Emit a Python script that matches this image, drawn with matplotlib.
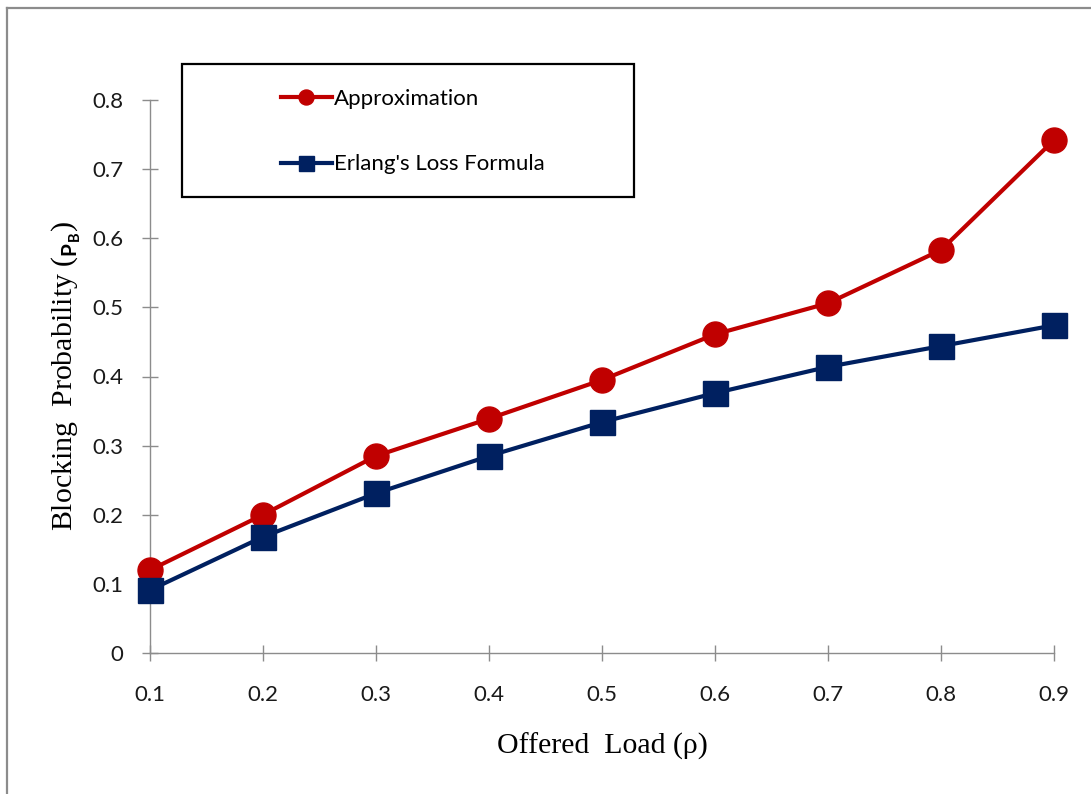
import matplotlib

matplotlib.use("Agg")
import matplotlib.pyplot as plt
from matplotlib.patches import Rectangle

# Offered load and blocking probability for both methods
load = [0.1, 0.2, 0.3, 0.4, 0.5, 0.6, 0.7, 0.8, 0.9]
approximation = [0.120, 0.200, 0.285, 0.339, 0.395, 0.461, 0.506, 0.583, 0.742]
erlang_loss = [0.091, 0.168, 0.231, 0.285, 0.334, 0.376, 0.414, 0.444, 0.474]
y_ticks = [0, 0.1, 0.2, 0.3, 0.4, 0.5, 0.6, 0.7, 0.8]
y_tick_labels = ["0", "0.1", "0.2", "0.3", "0.4", "0.5", "0.6", "0.7", "0.8"]
x_tick_labels = ["0.1", "0.2", "0.3", "0.4", "0.5", "0.6", "0.7", "0.8", "0.9"]

RED = "#C00000"
NAVY = "#002060"
AXIS_GREY = "#8C8C8C"
TICK_FONT = "Lato"
LABEL_FONT = "Liberation Serif"

plt.rcParams["mathtext.fontset"] = "custom"
plt.rcParams["mathtext.bf"] = "Lato:bold"
plt.rcParams["mathtext.rm"] = "Liberation Serif"

fig = plt.figure(figsize=(10.91, 7.94), dpi=100)
ax = fig.add_axes([150 / 1091, 1 - 653 / 794, (1054 - 150) / 1091, (653 - 100) / 794])

ax.plot(load, approximation, color=RED, lw=3, marker="o", ms=18,
        label="Approximation", clip_on=False, zorder=3)
ax.plot(load, erlang_loss, color=NAVY, lw=3, marker="s", ms=18,
        label="Erlang's Loss Formula", clip_on=False, zorder=3)

ax.set_xlim(0.1, 0.9)
ax.set_ylim(0, 0.8)
ax.set_xticks(load)
ax.set_xticklabels(x_tick_labels, fontfamily=TICK_FONT, fontsize=16)
ax.set_yticks(y_ticks)
ax.set_yticklabels(y_tick_labels, fontfamily=TICK_FONT, fontsize=16)
ax.tick_params(direction="inout", length=12, width=1, color=AXIS_GREY,
               labelcolor="#1a1a1a")
ax.tick_params(axis="y", pad=13)
ax.tick_params(axis="x", pad=17)

for side in ("top", "right"):
    ax.spines[side].set_visible(False)
for side in ("left", "bottom"):
    ax.spines[side].set_color(AXIS_GREY)
    ax.spines[side].set_linewidth(1)

ax.set_xlabel("Offered  Load (\u03c1)", fontfamily=LABEL_FONT, fontsize=21.5,
              labelpad=20)
ax.set_ylabel(r"Blocking  Probability ($_{\mathbf{P_B}}$)", fontfamily=LABEL_FONT,
              fontsize=21.5, labelpad=7)

# Legend sits inside a wide framed box in the upper left
fig.patches.append(Rectangle((182 / 1091, 1 - 197 / 794), (634 - 182) / 1091,
                             (197 - 64) / 794, transform=fig.transFigure,
                             fill=False, edgecolor="black", lw=1.6, zorder=5))
leg = fig.legend(loc="upper left", bbox_to_anchor=(272 / 1091, 1 - 80 / 794),
                 frameon=False, prop={"family": TICK_FONT, "size": 16},
                 handlelength=2.3, handletextpad=0.1, labelspacing=2.05,
                 markerscale=0.6, borderaxespad=0)

# Outer chart frame (left and top edges)
fig.add_artist(plt.Line2D([7 / 1091, 7 / 1091], [0, 1 - 8 / 794],
                          transform=fig.transFigure, color="#8C8C8C", lw=1.6))
fig.add_artist(plt.Line2D([7 / 1091, 1], [1 - 8 / 794, 1 - 8 / 794],
                          transform=fig.transFigure, color="#8C8C8C", lw=1.6))

fig.savefig("out.png", dpi=100)
